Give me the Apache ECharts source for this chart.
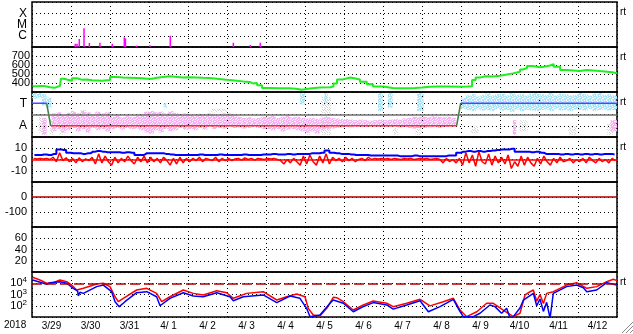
<!DOCTYPE html>
<html><head><meta charset="utf-8">
<script src="https://cdn.jsdelivr.net/npm/echarts@6/dist/echarts.min.js"></script>
<style>html,body{margin:0;padding:0;background:#fff}#c{width:633px;height:334px}</style>
</head><body><div id="c"></div>
<script>
// ---- axis / label text ----
const dayLabels = ['3/29','3/30','3/31','4/ 1','4/ 2','4/ 3','4/ 4','4/ 5','4/ 6','4/ 7','4/ 8','4/ 9','4/10','4/11','4/12'];
const yearLabel = '2018';
const flareTicks = {1:'C', 2:'M', 3:'X'};
const sectorTicks = {1:'T', '-1':'A'};
const rtPanels = [0,1,2,3,6];

// ---- X-ray flares: [hour since 3/29 00UT, decades above 1e-7 W/m2] ----
const flares = [[26.6,0.29],[27.7,0.29],[29.1,0.71],[32.0,1.66],[35.3,0.36],[41.8,0.38],[49.4,0.29],
  [56.8,0.86],[57.5,0.77],[64.2,0.12],[72.6,0.15],[85.1,1.0],[123.9,0.38],[134.3,0.18],[140.5,0.38]];

// ---- solar wind speed [hour, km/s] ----
const speed = [[0.4,365],[3,368],[6.8,360],[9,352],[11.1,348],[14.2,368],[17.2,372],[17.8,448],[19.5,438],[21.5,425],
  [24.6,452],[27.7,435],[31,440],[33.8,430],[37,428],[40,424],[43,430],[46.2,432],[48,468],[52,460],[56,458],
  [60,455],[64.6,452],[68,446],[70.8,448],[74,458],[76.9,466],[80.6,474],[85,468],[89.2,462],[93,465],[97.2,462],
  [101,458],[105.2,455],[109,448],[113.8,440],[118,432],[121.8,425],[126,418],[129.8,412],[134,395],[136,400],
  [138.5,375],[141.5,345],[146,342],[152.6,342],[158,335],[162.5,325],[166,338],[171,350],[177,352],[183.4,360],
  [185.5,395],[187.7,440],[191.4,462],[196,440],[201.8,414],[206,385],[209.8,360],[216,345],[222,343],[226.5,341],
  [231,345],[235.7,350],[240,357],[244.9,360],[250,362],[256,358],[263.4,360],[267.7,365],[270.8,433],[273,460],
  [275.7,475],[279,472],[283.7,480],[288,495],[292.3,507],[296,525],[300.3,550],[302,565],[304.6,590],[308,575],
  [312.6,580],[315,595],[318.8,610],[321,580],[325,545],[329,540],[333,533],[337,545],[341.5,540],[345,532],
  [349.5,526],[354,520],[357,508],[360,512]];

// ---- IMF sector clouds [start hour, end hour, low, high] (T=+1, A=-1) ----
const pinkStart = 12, binH = 3;
const pinkHi = [0.1,0.2,0.05,0.15, 0.3,0.1,0.35,0.2,0.05,0.25,0.1,0.2, -0.2,-0.1,-0.25,-0.15,-0.2,-0.1,0.05,0.25,
  0.3,0.2,0.25,0.1,0.3,0.15,0.05,0.1, 0.0,-0.1,0.05,-0.05,0.1,0.0,-0.1,0.1, 0.1,0.0,-0.2,-0.3,-0.25,-0.35,-0.3,-0.2,
  -0.2,-0.15,-0.3,-0.2,-0.1,-0.25,-0.2,-0.3, -0.35,-0.3,-0.4,-0.3,-0.25,-0.3,-0.35,-0.4, -0.4,-0.45,-0.5,-0.45,-0.5,-0.55,-0.5,-0.45,
  -0.5,-0.45,-0.4,-0.45,-0.35,-0.3,-0.2,-0.25, -0.2,-0.25,-0.15,-0.2,-0.25,-0.2,-0.3];
const pinkLo = [-1.5,-1.3,-1.6,-1.4, -1.2,-1.5,-1.3,-1.6,-1.2,-1.4,-1.3,-1.5, -1.3,-1.2,-1.35,-1.2,-1.3,-1.25,-1.4,-1.6,
  -1.7,-1.4,-1.6,-1.3,-1.5,-1.4,-1.2,-1.35, -1.3,-1.4,-1.2,-1.35,-1.1,-1.3,-1.2,-1.25, -1.1,-1.2,-1.15,-1.25,-1.2,-1.1,-1.2,-1.3,
  -1.3,-1.4,-1.3,-1.5,-1.35,-1.3,-1.4,-1.5, -1.6,-1.5,-1.7,-1.4,-1.3,-1.25,-1.2,-1.15, -1.1,-1.15,-1.1,-1.05,-1.1,-1.0,-1.05,-1.1,
  -1.1,-1.05,-1.1,-1.15,-1.1,-1.2,-1.25,-1.2, -1.2,-1.15,-1.1,-1.2,-1.1,-1.1,-1.05];
const cyanStart = 264;
const cyanHi = [1.5,1.7,1.8,1.6,1.75,1.9,1.7,1.8, 1.85,1.7,1.9,1.75,1.8,1.7,1.85,1.9, 1.8,1.75,1.9,1.7,1.85,1.8,1.7,1.75,
  1.9,1.8,1.7,1.85,1.9,1.75,1.8,1.7];
const cyanLo = [0.5,0.4,0.3,0.45,0.35,0.4,0.3,0.5, 0.35,0.4,0.25,0.45,0.3,0.4,0.35,0.3, 0.4,0.45,0.3,0.5,0.35,0.4,0.3,0.45,
  0.4,0.35,0.5,0.3,0.4,0.45,0.35,0.4];
const cyanExtra = [[0,3,1.4,1.9],[3,6,1.5,1.9],[6,9,0.8,1.8],[9,12,0.6,1.5],[81,83,0.6,1.0],[165,168,0.9,1.9],
  [180,182,1.0,1.9],[213,216,0.3,1.9],[219,222,0.6,1.9],[237,241,0.3,1.9]];
const pinkExtra = [[296,298,-1.8,-0.5],[356,360,-1.5,-0.5],[6,9,-1.8,-0.3]];
const grayPatches = [[4,6,-1.6,0.0],[11,13,-1.8,-0.5],[17,20,-1.8,-1.0],[30,33,0.0,0.4],[110,120,0.2,0.5],
  [168,171,-1.8,-1.3],[178,184,-1.8,1.6],[222,225,-1.8,-1.2],[236,240,-1.8,-1.0],[270,275,-1.7,-1.0],
  [300,305,-1.5,-0.5],[330,335,-1.8,-1.0],[354,358,-1.8,-0.8]];
// predicted sector line
const sectorTimes = [0, 9, 11.5, 261.3, 263.8, 360];
const sectorLevels = [1, 1, -1, -1, 1, 1];

// ---- IMF Bt (3-hour) and Bz (2-hour) nT ----
const bt = [4,4,4.5,4,5,9,8.5,6, 5.5,5.5,5,5.5,7,7.5,7,6.5, 6.5,6.4,6,6.5,6,4,4,5.5, 5.5,5.5,5.5,5,4.5,4,4,4,
  4,4,4.5,4,4,4,4.5,4, 4,4,4,4.5,4,4,4,4.5, 4.5,5,4.5,4.5,5,4.5,5,5, 5,5.5,5.5,6,8,6,5.5,5,
  5,4.5,4,4,4,3.5,3.5,3.5, 3.5,3.5,3.5,3,3,3,3.5,3, 3,3,3,3,3,3.5,3.5,6, 7,7.5,7,7.5,7,7.5,8,8.5,
  9,9,9.5,7,7,7,6.5,7, 6,5,5,5,4.5,5,4.5,5, 4.5,5,4.5,5,4.5,5,5,4.5];
const bz = [1,0.5,1,0.5,1,0,2,-2,6,-1,1.5,-2, 1,-3,1.5,-2,0.5,-1,2,-4,5,-3,3,-2, -5,2,-3,1,-2,3,-1,-4,2,-2,3,-3,
  2,-2,1,-3,2,-1,-5,1,-4,2,-3,1, -2,1,-1,2,-2,1,0,-1,2,-2,1,-1, 1,-1,0.5,1,-0.5,1.5,0,1,-0.5,1,0.5,0,
  1,0.5,1,0,-1,-4,0,-3,1,-2,-5,3, -4,4,-2,-5,3,-3,5,-4,2,-1,1,-2, 2,-1,1,-2,0,1,-1,2,0,1,0.5,1,
  0.5,1,0,1,0.5,0,1,0.5,1,0,0.5,1, 0.5,1,0,0.5,1,0,-3,1,-2,0,-3,1, -5,6,-3,4,-6,7,-2,-4,5,-5,3,-3,
  2,-4,4,-8,-2,-6,3,-5,2,-3,-6,1, -4,3,-2,-5,1,-3,2,-2,-1,1,-3,0, -2,1,-3,2,-1,-3,1,-2,0,-3,1,-1];
const btStep = 3, bzStep = 2;
const dstLevel = 0;

// ---- >2MeV electron flux, log10 [hour, log10 flux] ----
const elecRed = [[0.4,4.53],[4.9,4.29],[9.0,4.0],[13.1,4.05],[17.2,4.29],[21.4,4.14],[24.4,3.84],[27.5,3.4],[31.6,3.55],
  [39.8,3.93],[43.9,4.0],[48,3.7],[51.1,2.8],[53.1,2.36],[56.2,2.66],[64.4,3.4],[70.6,3.55],[76.7,3.1],[79.8,2.36],
  [84.9,2.8],[93.1,3.4],[99.3,3.1],[105.4,2.96],[113.7,3.34],[119.8,3.16],[123.9,2.66],[132.1,3.1],[142.3,3.25],
  [150.6,2.51],[156.7,2.8],[162.9,3.04],[168,2.8],[170,1.77],[173.1,1.18],[177.2,1.1],[181.4,1.77],[185.4,2.75],
  [187.5,2.72],[191.6,2.36],[197.7,1.62],[203.9,2.07],[210,2.42],[218.3,2.22],[222.3,1.92],[230.6,2.22],[238.8,2.57],
  [244.9,1.99],[253.1,2.36],[259.3,2.66],[263.4,1.62],[267.5,1.03],[273.7,1.47],[279.8,2.22],[283.9,2.22],[290,1.62],
  [296.2,1.03],[300.3,1.33],[303.4,2.96],[306,3.2],[308.5,3.4],[310.6,2.4],[312.6,3.0],[314.7,2.2],[316.7,3.1],
  [320.8,3.25],[329,3.84],[335.2,4.05],[341.4,3.55],[347.5,3.7],[353.7,4.14],[357.7,4.35],[360,4.23]];
const elecBlue = [[0.4,4.29],[7.0,4.0],[9.0,3.9],[11.1,4.05],[17.2,4.14],[21.4,4.0],[25.4,3.55],[28.1,3.3],[28.5,2.87],
  [29.5,3.2],[31.6,3.1],[39.8,3.7],[43.9,3.84],[49,3.25],[51.1,2.36],[53.7,1.92],[57.2,2.36],[64.4,3.16],[70.6,3.25],
  [76.7,2.8],[78.8,2.0],[84.9,2.66],[93.1,3.16],[99.3,2.87],[105.4,2.8],[113.7,3.16],[121.8,2.8],[123.9,2.45],
  [130,2.8],[142.3,2.96],[150.6,2.28],[158.8,2.87],[164.9,2.66],[169,1.77],[171.1,1.03],[177.2,1.18],[183.4,2.22],
  [185.4,2.51],[191.6,2.22],[197.7,1.47],[203.9,1.92],[210,2.28],[218.3,2.07],[222.3,1.7],[230.6,2.07],[238.8,2.45],
  [243.9,1.47],[251.1,1.92],[259.3,2.57],[263.4,1.47],[265.4,1.03],[271.6,1.03],[275.7,1.33],[281.8,2.07],[284.9,1.92],
  [289,1.33],[292.1,1.77],[294.2,0.9],[296.2,1.03],[300.3,1.8],[302.4,2.51],[308.5,3.1],[310.6,2.0],[312.6,2.6],
  [314.7,1.5],[316.7,2.3],[318.8,0.9],[320.8,3.1],[329,3.7],[335.2,3.84],[339.3,3.6],[341.4,3.25],[347.5,3.4],
  [353.7,4.05],[359.8,3.84]];
const elecAlert = 4;

// ================= build =================
const FONT = 'Liberation Sans';
const panelTop = 2, panelH = 45, gridLeft = 32, gridRight = 16;
const dotted = {show:true, lineStyle:{color:'#000', width:1, type:[1,3]}};
const grids = [], xAxes = [], yAxes = [];
for (let i = 0; i < 7; i++) {
  grids.push({left:gridLeft, right:gridRight, top:panelTop + panelH*i, height:panelH, show:true,
    borderColor:'#000', borderWidth:1.5, backgroundColor:'transparent', containLabel:false, outerBoundsMode:'none'});
  xAxes.push({type:'value', gridIndex:i, position:'top', min:0, max:360, interval:24,
    axisLine:{show:false}, axisTick:{show:false}, axisLabel:{show:false}, splitLine:dotted});
}
xAxes.push({type:'category', gridIndex:6, position:'bottom', data:dayLabels, boundaryGap:true,
  axisLine:{show:false}, axisTick:{show:false}, splitLine:{show:false},
  axisLabel:{interval:0, fontSize:10, fontFamily:FONT, color:'#000', margin:4}});
function yAx(i, min, max, interval, fmt, size) {
  return {type:'value', gridIndex:i, min, max, interval, axisLine:{show:false}, axisTick:{show:false},
    splitLine:dotted, axisLabel:{fontSize:size || 11, fontFamily:FONT, color:'#000', margin:5, formatter:fmt,
      showMinLabel:true, showMaxLabel:true}};
}
yAxes.push(yAx(0, 0, 4, 1, v => flareTicks[v] || '', 12));
yAxes.push(yAx(1, 300, 800, 100, v => (v >= 400 && v <= 700) ? String(v) : ''));
yAxes[1].axisLabel.margin = 2;
yAxes.push(yAx(2, -2, 2, 1, v => sectorTicks[v] || '', 12));
yAxes.push(yAx(3, -20, 20, 10, v => (Math.abs(v) <= 10) ? String(v) : ''));
yAxes.push(yAx(4, -200, 100, 100, v => (v === 0 || v === -100) ? String(v) : ''));
yAxes.push(yAx(5, 0, 80, 20, v => (v > 0 && v < 80) ? String(v) : ''));
yAxes.push(yAx(6, 1, 5, 1, v => (v >= 2 && v <= 4) ? '10{s|' + v + '}' : ''));
yAxes[6].axisLabel.rich = {s:{fontSize:8, fontFamily:FONT, color:'#000', verticalAlign:'top', padding:[0,0,6,0]}};

// speckle pattern fills for the sector clouds (style only)
function speckle(color, mask) {
  const n = Math.sqrt(mask.length), cv = document.createElement('canvas');
  cv.width = n; cv.height = n;
  const ctx = cv.getContext('2d');
  ctx.fillStyle = color;
  mask.forEach((m, k) => { if (m) ctx.fillRect(k % n, Math.floor(k / n), 1, 1); });
  return {image:cv, repeat:'repeat'};
}
const maskA = [1,1,0,1,1, 0,1,1,1,0, 1,1,0,1,1, 1,0,1,1,1, 0,1,1,0,1];
const maskB = [1,0,1,1,0, 1,1,0,1,1, 0,1,1,1,0, 1,1,0,0,1, 1,0,1,1,1];
const maskG = [1,0,0,1,0, 0,1,0,0,0, 0,0,1,0,1, 1,0,0,0,0, 0,0,1,0,1];

const series = [];
// flares
series.push({type:'bar', xAxisIndex:0, yAxisIndex:0, data:flares, barWidth:1.5, itemStyle:{color:'#ff00ff'}, silent:true, animation:false});
// speed
series.push({type:'line', xAxisIndex:1, yAxisIndex:1, data:speed, symbol:'none', step:'end',
  lineStyle:{color:'#1fee1f', width:2}, silent:true, animation:false});
// sector clouds
function cloud(rects, fill) {
  return {type:'custom', xAxisIndex:2, yAxisIndex:2, data:rects, silent:true, animation:false,
    encode:{x:[0,1], y:[2,3]},
    renderItem(params, api) {
      const a = api.coord([api.value(0), api.value(3)]);
      const b = api.coord([api.value(1), api.value(2)]);
      return {type:'rect', shape:{x:a[0], y:a[1], width:b[0]-a[0], height:b[1]-a[1]}, style:{fill}};
    }};
}
const pinkRects = pinkHi.map((h, i) => [pinkStart + binH*i, pinkStart + binH*(i+1), pinkLo[i], h]).concat(pinkExtra);
const cyanRects = cyanHi.map((h, i) => [cyanStart + binH*i, cyanStart + binH*(i+1), cyanLo[i], h]).concat(cyanExtra);
series.push(cloud(grayPatches, speckle('#d2d2d2', maskG)));
series.push(cloud(pinkRects, speckle('#f7b0f3', maskA)));
series.push(cloud(cyanRects, speckle('#a8e4f8', maskB)));
// midline
series.push({type:'line', xAxisIndex:2, yAxisIndex:2, data:[], silent:true, animation:false,
  markLine:{silent:true, symbol:'none', label:{show:false}, lineStyle:{color:'#707070', width:1.5, type:'solid'}, data:[{yAxis:0}]}});
for (let i = 0; i < sectorTimes.length - 1; i++) {
  const a = sectorLevels[i], b = sectorLevels[i+1];
  const col = a !== b ? '#3f7f3f' : (a > 0 ? '#4848ff' : '#ff2a2a');
  series.push({type:'line', xAxisIndex:2, yAxisIndex:2, symbol:'none', silent:true, animation:false,
    data:[[sectorTimes[i], a], [sectorTimes[i+1], b]], lineStyle:{color:col, width:1.5}});
}
// IMF
series.push({type:'line', xAxisIndex:3, yAxisIndex:3, symbol:'none', step:'middle', silent:true, animation:false,
  data:bt.map((v, i) => [btStep*i + btStep/2, v]), lineStyle:{color:'#0000ff', width:2}});
series.push({type:'line', xAxisIndex:3, yAxisIndex:3, symbol:'none', silent:true, animation:false,
  data:bz.map((v, i) => [bzStep*i + bzStep/2, v]), lineStyle:{color:'#ff0000', width:1.5},
  markLine:{silent:true, symbol:'none', label:{show:false}, lineStyle:{color:'#ff0000', width:1.5, type:'solid'}, data:[{yAxis:0}]}});
// Dst
series.push({type:'line', xAxisIndex:4, yAxisIndex:4, data:[], silent:true, animation:false,
  markLine:{silent:true, symbol:'none', label:{show:false}, lineStyle:{color:'#b00000', width:1.5, type:'solid'}, data:[{yAxis:dstLevel}]}});
// electrons
series.push({type:'line', xAxisIndex:6, yAxisIndex:6, data:[], silent:true, animation:false,
  markLine:{silent:true, symbol:'none', label:{show:false}, lineStyle:{color:'#b00000', width:1.5, type:[10,4]}, data:[{yAxis:elecAlert}]}});
series.push({type:'line', xAxisIndex:6, yAxisIndex:6, symbol:'none', silent:true, animation:false, data:elecRed,
  lineStyle:{color:'#ff0000', width:1.5}});
series.push({type:'line', xAxisIndex:6, yAxisIndex:6, symbol:'none', silent:true, animation:false, data:elecBlue,
  lineStyle:{color:'#0000ff', width:1.5}});

const graphics = [{type:'text', left:4, top:320, style:{text:yearLabel, font:'10px ' + FONT, fill:'#000'}}];
rtPanels.forEach(p => graphics.push({type:'text', x:620, y:panelTop + panelH*p + 10,
  style:{text:'rt', font:'10px ' + FONT, fill:'#000', verticalAlign:'middle'}}));
[[622,333,633,322],[626,333,633,326],[630,333,633,330]].forEach(l => graphics.push({type:'line',
  shape:{x1:l[0], y1:l[1], x2:l[2], y2:l[3]}, style:{stroke:'#888', lineWidth:1}}));

const chart = echarts.init(document.getElementById('c'), null, {renderer:'canvas'});
chart.setOption({animation:false, backgroundColor:'#fff', grid:grids, xAxis:xAxes, yAxis:yAxes, series, graphic:graphics});
</script></body></html>
